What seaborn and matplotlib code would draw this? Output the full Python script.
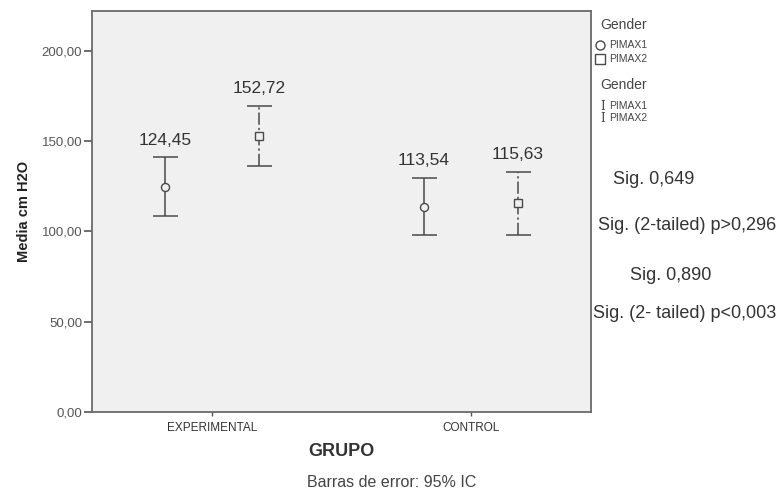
import numpy as np
import pandas as pd
import matplotlib.pyplot as plt
import seaborn as sns
from matplotlib.lines import Line2D

# data (means and 95% CI limits)
grupos = ['EXPERIMENTAL', 'CONTROL']
genders = ['PIMAX1', 'PIMAX2']
media_pimax1 = [124.45, 113.54]
media_pimax2 = [152.72, 115.63]
ci_low_pimax1 = [108.6, 98.1]
ci_high_pimax1 = [140.9, 129.6]
ci_low_pimax2 = [136.3, 98.1]
ci_high_pimax2 = [169.5, 133.1]
sig_texts = ['Sig. 0,649', 'Sig. (2-tailed) p>0,296', 'Sig. 0,890', 'Sig. (2- tailed) p<0,003']

df = pd.DataFrame({
    'GRUPO': grupos * 2,
    'Gender': [genders[0]] * 2 + [genders[1]] * 2,
    'media': media_pimax1 + media_pimax2,
    'low': ci_low_pimax1 + ci_low_pimax2,
    'high': ci_high_pimax1 + ci_high_pimax2,
})

sns.set_theme(style='white')
plt.rcParams['font.family'] = ['Liberation Sans', 'DejaVu Sans']

ink = '#4a4a4a'
bg = '#f0f0f0'

fig = plt.figure(figsize=(7.83, 4.91), dpi=100)
ax = fig.add_axes([0.1175, 0.1609, 0.6373, 0.8167])
ax.set_facecolor(bg)

sns.pointplot(data=df, x='GRUPO', y='media', hue='Gender', order=grupos, hue_order=genders,
              errorbar=None, dodge=0.365, markers=['o', 's'], linestyle='none',
              palette=[ink, ink], legend=False, ax=ax)

styles = {'PIMAX1': '-', 'PIMAX2': (0, (8, 2, 1.5, 2))}
for line, g in zip(ax.lines[:2], genders):
    line.set_markerfacecolor(bg)
    line.set_markeredgecolor(ink)
    line.set_markeredgewidth(1.0)
    line.set_markersize(5.8 if g == 'PIMAX1' else 6)
    line.set_zorder(5)
    xs = line.get_xdata()
    sub = df[df['Gender'] == g].set_index('GRUPO').loc[grupos]
    yerr = [sub['media'] - sub['low'], sub['high'] - sub['media']]
    eb = ax.errorbar(xs, sub['media'], yerr=yerr, fmt='none', ecolor=ink, elinewidth=1.1,
                     capsize=9, capthick=1.1, zorder=3)
    eb[2][0].set_linestyle(styles[g])
    for xv, hv, mv in zip(xs, sub['high'], sub['media']):
        ax.annotate(f'{mv:.2f}'.replace('.', ','), (xv, hv), xytext=(0, 7),
                    textcoords='offset points', ha='center', va='bottom',
                    fontsize=12.5, color='#333333')

ax.set_xlim(-0.465, 1.465)
ax.set_ylim(0, 222)
ax.set_yticks([0, 50, 100, 150, 200])
ax.set_yticklabels(['0,00', '50,00', '100,00', '150,00', '200,00'], fontsize=9.5, color='#555555')
ax.set_xticks([0, 1])
ax.set_xticklabels(grupos, fontsize=8.5, color='#333333')
ax.tick_params(axis='y', length=6, width=1.2, color='#555555', pad=1, left=True)
ax.tick_params(axis='x', length=3, width=1.0, color='#555555', pad=4, bottom=True)
for sp in ax.spines.values():
    sp.set_color('#6a6a6a')
    sp.set_linewidth(1.3)

ax.set_ylabel('Media cm H2O', fontsize=10.5, fontweight='bold', color='#222222', labelpad=8)
ax.set_xlabel('GRUPO', fontsize=13, fontweight='bold', color='#333333', labelpad=7)
fig.text(0.392, 0.018, 'Barras de error: 95% IC', ha='left', va='center', fontsize=11.5,
         color='#444444')

# legend block on the right (two "Gender" keys)
def fx(px):
    return px / 783

def fy(py):
    return 1 - py / 491

txt = '#444444'
for title_y in (25, 85):
    fig.text(fx(600), fy(title_y), 'Gender', ha='left', va='center', fontsize=10, color=txt)
for gy, g in zip((45, 58.5), genders):
    fig.text(fx(609), fy(gy), g, ha='left', va='center', fontsize=7.5, color=txt)
for gy, g in zip((106, 118), genders):
    fig.text(fx(609), fy(gy), g, ha='left', va='center', fontsize=7.5, color=txt)
    fig.text(fx(603), fy(gy), 'I', ha='center', va='center', fontsize=8.5, color=ink,
             family='DejaVu Serif')
fig.add_artist(Line2D([fx(600)], [fy(45)], marker='o', ls='none', mfc='white', mec=ink,
                      ms=6.5, transform=fig.transFigure))
fig.add_artist(Line2D([fx(600)], [fy(58.5)], marker='s', ls='none', mfc='white', mec=ink,
                      ms=7.5, transform=fig.transFigure))

# significance notes
sig_pos = [(613, 180), (598, 226), (630, 275), (593, 313)]
for (px, py), s in zip(sig_pos, sig_texts):
    fig.text(fx(px), fy(py), s, ha='left', va='center', fontsize=13, color='#333333')

fig.savefig('out.png', dpi=100)
